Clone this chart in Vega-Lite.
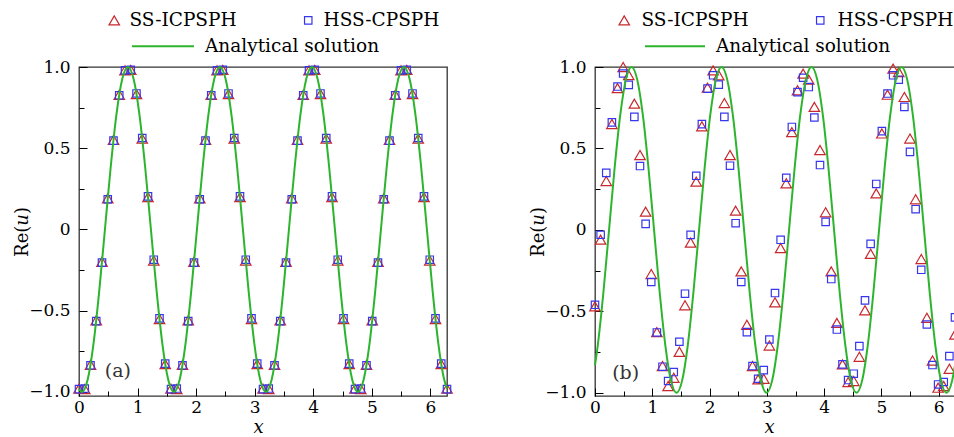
{
  "$schema": "https://vega.github.io/schema/vega-lite/v6.json",
  "background": "white",
  "padding": {"left": 12, "top": 10, "right": 0, "bottom": 0},
  "spacing": 72,
  "config": {
    "font": "DejaVu Serif",
    "view": {"stroke": "#333333", "strokeWidth": 1.3},
    "axis": {"labelFont": "DejaVu Serif", "labelFontSize": 17, "labelColor": "#000000", "titleFont": "DejaVu Serif", "titleFontSize": 18, "titleFontWeight": "normal", "titleColor": "#000000", "domain": false, "grid": false, "tickColor": "#000000", "tickWidth": 1, "labelFlush": false},
    "legend": {"labelFont": "DejaVu Serif", "labelFontSize": 18.5, "labelColor": "#000000", "padding": 0, "labelLimit": 0}
  },
  "datasets": {
    "ptsA": [
      {"x":0,"y":-0.980,"m":"SS-ICPSPH"},{"x":0.0982,"y":-0.982,"m":"SS-ICPSPH"},{"x":0.1963,"y":-0.833,"m":"SS-ICPSPH"},{"x":0.2945,"y":-0.559,"m":"SS-ICPSPH"},{"x":0.3927,"y":-0.199,"m":"SS-ICPSPH"},{"x":0.4909,"y":0.191,"m":"SS-ICPSPH"},{"x":0.589,"y":0.551,"m":"SS-ICPSPH"},{"x":0.6872,"y":0.829,"m":"SS-ICPSPH"},{"x":0.7854,"y":0.980,"m":"SS-ICPSPH"},{"x":0.8836,"y":0.982,"m":"SS-ICPSPH"},{"x":0.9817,"y":0.833,"m":"SS-ICPSPH"},{"x":1.0799,"y":0.559,"m":"SS-ICPSPH"},{"x":1.1781,"y":0.199,"m":"SS-ICPSPH"},{"x":1.2763,"y":-0.191,"m":"SS-ICPSPH"},{"x":1.3744,"y":-0.551,"m":"SS-ICPSPH"},{"x":1.4726,"y":-0.829,"m":"SS-ICPSPH"},
      {"x":1.5708,"y":-0.980,"m":"SS-ICPSPH"},{"x":1.669,"y":-0.982,"m":"SS-ICPSPH"},{"x":1.7671,"y":-0.833,"m":"SS-ICPSPH"},{"x":1.8653,"y":-0.559,"m":"SS-ICPSPH"},{"x":1.9635,"y":-0.199,"m":"SS-ICPSPH"},{"x":2.0617,"y":0.191,"m":"SS-ICPSPH"},{"x":2.1598,"y":0.551,"m":"SS-ICPSPH"},{"x":2.258,"y":0.829,"m":"SS-ICPSPH"},{"x":2.3562,"y":0.980,"m":"SS-ICPSPH"},{"x":2.4544,"y":0.982,"m":"SS-ICPSPH"},{"x":2.5525,"y":0.833,"m":"SS-ICPSPH"},{"x":2.6507,"y":0.559,"m":"SS-ICPSPH"},{"x":2.7489,"y":0.199,"m":"SS-ICPSPH"},{"x":2.8471,"y":-0.191,"m":"SS-ICPSPH"},{"x":2.9452,"y":-0.551,"m":"SS-ICPSPH"},{"x":3.0434,"y":-0.829,"m":"SS-ICPSPH"},
      {"x":3.1416,"y":-0.980,"m":"SS-ICPSPH"},{"x":3.2398,"y":-0.982,"m":"SS-ICPSPH"},{"x":3.3379,"y":-0.833,"m":"SS-ICPSPH"},{"x":3.4361,"y":-0.559,"m":"SS-ICPSPH"},{"x":3.5343,"y":-0.199,"m":"SS-ICPSPH"},{"x":3.6325,"y":0.191,"m":"SS-ICPSPH"},{"x":3.7306,"y":0.551,"m":"SS-ICPSPH"},{"x":3.8288,"y":0.829,"m":"SS-ICPSPH"},{"x":3.927,"y":0.980,"m":"SS-ICPSPH"},{"x":4.0252,"y":0.982,"m":"SS-ICPSPH"},{"x":4.1233,"y":0.833,"m":"SS-ICPSPH"},{"x":4.2215,"y":0.559,"m":"SS-ICPSPH"},{"x":4.3197,"y":0.199,"m":"SS-ICPSPH"},{"x":4.4179,"y":-0.191,"m":"SS-ICPSPH"},{"x":4.516,"y":-0.551,"m":"SS-ICPSPH"},{"x":4.6142,"y":-0.829,"m":"SS-ICPSPH"},
      {"x":4.7124,"y":-0.980,"m":"SS-ICPSPH"},{"x":4.8106,"y":-0.982,"m":"SS-ICPSPH"},{"x":4.9087,"y":-0.833,"m":"SS-ICPSPH"},{"x":5.0069,"y":-0.559,"m":"SS-ICPSPH"},{"x":5.1051,"y":-0.199,"m":"SS-ICPSPH"},{"x":5.2033,"y":0.191,"m":"SS-ICPSPH"},{"x":5.3014,"y":0.551,"m":"SS-ICPSPH"},{"x":5.3996,"y":0.829,"m":"SS-ICPSPH"},{"x":5.4978,"y":0.980,"m":"SS-ICPSPH"},{"x":5.596,"y":0.982,"m":"SS-ICPSPH"},{"x":5.6941,"y":0.833,"m":"SS-ICPSPH"},{"x":5.7923,"y":0.559,"m":"SS-ICPSPH"},{"x":5.8905,"y":0.199,"m":"SS-ICPSPH"},{"x":5.9887,"y":-0.191,"m":"SS-ICPSPH"},{"x":6.0868,"y":-0.551,"m":"SS-ICPSPH"},{"x":6.185,"y":-0.829,"m":"SS-ICPSPH"},{"x":6.2832,"y":-0.980,"m":"SS-ICPSPH"},
      {"x":0,"y":-0.983,"m":"HSS-CPSPH"},{"x":0.0982,"y":-0.979,"m":"HSS-CPSPH"},{"x":0.1963,"y":-0.836,"m":"HSS-CPSPH"},{"x":0.2945,"y":-0.564,"m":"HSS-CPSPH"},{"x":0.3927,"y":-0.204,"m":"HSS-CPSPH"},{"x":0.4909,"y":0.186,"m":"HSS-CPSPH"},{"x":0.589,"y":0.547,"m":"HSS-CPSPH"},{"x":0.6872,"y":0.826,"m":"HSS-CPSPH"},{"x":0.7854,"y":0.979,"m":"HSS-CPSPH"},{"x":0.8836,"y":0.983,"m":"HSS-CPSPH"},{"x":0.9817,"y":0.837,"m":"HSS-CPSPH"},{"x":1.0799,"y":0.563,"m":"HSS-CPSPH"},{"x":1.1781,"y":0.204,"m":"HSS-CPSPH"},{"x":1.2763,"y":-0.186,"m":"HSS-CPSPH"},{"x":1.3744,"y":-0.547,"m":"HSS-CPSPH"},{"x":1.4726,"y":-0.826,"m":"HSS-CPSPH"},
      {"x":1.5708,"y":-0.983,"m":"HSS-CPSPH"},{"x":1.669,"y":-0.979,"m":"HSS-CPSPH"},{"x":1.7671,"y":-0.836,"m":"HSS-CPSPH"},{"x":1.8653,"y":-0.564,"m":"HSS-CPSPH"},{"x":1.9635,"y":-0.204,"m":"HSS-CPSPH"},{"x":2.0617,"y":0.186,"m":"HSS-CPSPH"},{"x":2.1598,"y":0.547,"m":"HSS-CPSPH"},{"x":2.258,"y":0.826,"m":"HSS-CPSPH"},{"x":2.3562,"y":0.979,"m":"HSS-CPSPH"},{"x":2.4544,"y":0.983,"m":"HSS-CPSPH"},{"x":2.5525,"y":0.837,"m":"HSS-CPSPH"},{"x":2.6507,"y":0.563,"m":"HSS-CPSPH"},{"x":2.7489,"y":0.204,"m":"HSS-CPSPH"},{"x":2.8471,"y":-0.186,"m":"HSS-CPSPH"},{"x":2.9452,"y":-0.547,"m":"HSS-CPSPH"},{"x":3.0434,"y":-0.826,"m":"HSS-CPSPH"},
      {"x":3.1416,"y":-0.983,"m":"HSS-CPSPH"},{"x":3.2398,"y":-0.979,"m":"HSS-CPSPH"},{"x":3.3379,"y":-0.836,"m":"HSS-CPSPH"},{"x":3.4361,"y":-0.564,"m":"HSS-CPSPH"},{"x":3.5343,"y":-0.204,"m":"HSS-CPSPH"},{"x":3.6325,"y":0.186,"m":"HSS-CPSPH"},{"x":3.7306,"y":0.547,"m":"HSS-CPSPH"},{"x":3.8288,"y":0.826,"m":"HSS-CPSPH"},{"x":3.927,"y":0.979,"m":"HSS-CPSPH"},{"x":4.0252,"y":0.983,"m":"HSS-CPSPH"},{"x":4.1233,"y":0.837,"m":"HSS-CPSPH"},{"x":4.2215,"y":0.563,"m":"HSS-CPSPH"},{"x":4.3197,"y":0.204,"m":"HSS-CPSPH"},{"x":4.4179,"y":-0.186,"m":"HSS-CPSPH"},{"x":4.516,"y":-0.547,"m":"HSS-CPSPH"},{"x":4.6142,"y":-0.826,"m":"HSS-CPSPH"},
      {"x":4.7124,"y":-0.983,"m":"HSS-CPSPH"},{"x":4.8106,"y":-0.979,"m":"HSS-CPSPH"},{"x":4.9087,"y":-0.836,"m":"HSS-CPSPH"},{"x":5.0069,"y":-0.564,"m":"HSS-CPSPH"},{"x":5.1051,"y":-0.204,"m":"HSS-CPSPH"},{"x":5.2033,"y":0.186,"m":"HSS-CPSPH"},{"x":5.3014,"y":0.547,"m":"HSS-CPSPH"},{"x":5.3996,"y":0.826,"m":"HSS-CPSPH"},{"x":5.4978,"y":0.979,"m":"HSS-CPSPH"},{"x":5.596,"y":0.983,"m":"HSS-CPSPH"},{"x":5.6941,"y":0.837,"m":"HSS-CPSPH"},{"x":5.7923,"y":0.563,"m":"HSS-CPSPH"},{"x":5.8905,"y":0.204,"m":"HSS-CPSPH"},{"x":5.9887,"y":-0.186,"m":"HSS-CPSPH"},{"x":6.0868,"y":-0.547,"m":"HSS-CPSPH"},{"x":6.185,"y":-0.826,"m":"HSS-CPSPH"},{"x":6.2832,"y":-0.983,"m":"HSS-CPSPH"}
    ],
    "ptsB": [
      {"x":0,"y":-0.47,"m":"SS-ICPSPH"},{"x":0.0982,"y":-0.06,"m":"SS-ICPSPH"},{"x":0.1963,"y":0.30,"m":"SS-ICPSPH"},{"x":0.2945,"y":0.65,"m":"SS-ICPSPH"},{"x":0.3927,"y":0.87,"m":"SS-ICPSPH"},{"x":0.4909,"y":1.0,"m":"SS-ICPSPH"},{"x":0.589,"y":0.95,"m":"SS-ICPSPH"},{"x":0.6872,"y":0.775,"m":"SS-ICPSPH"},{"x":0.7854,"y":0.459,"m":"SS-ICPSPH"},{"x":0.8836,"y":0.112,"m":"SS-ICPSPH"},{"x":0.9817,"y":-0.271,"m":"SS-ICPSPH"},{"x":1.0799,"y":-0.628,"m":"SS-ICPSPH"},{"x":1.1781,"y":-0.836,"m":"SS-ICPSPH"},{"x":1.2763,"y":-0.959,"m":"SS-ICPSPH"},{"x":1.3744,"y":-0.908,"m":"SS-ICPSPH"},{"x":1.4726,"y":-0.749,"m":"SS-ICPSPH"},
      {"x":1.5708,"y":-0.463,"m":"SS-ICPSPH"},{"x":1.669,"y":-0.078,"m":"SS-ICPSPH"},{"x":1.7671,"y":0.296,"m":"SS-ICPSPH"},{"x":1.8653,"y":0.636,"m":"SS-ICPSPH"},{"x":1.9635,"y":0.873,"m":"SS-ICPSPH"},{"x":2.0617,"y":0.979,"m":"SS-ICPSPH"},{"x":2.1598,"y":0.949,"m":"SS-ICPSPH"},{"x":2.258,"y":0.779,"m":"SS-ICPSPH"},{"x":2.3562,"y":0.459,"m":"SS-ICPSPH"},{"x":2.4544,"y":0.118,"m":"SS-ICPSPH"},{"x":2.5525,"y":-0.255,"m":"SS-ICPSPH"},{"x":2.6507,"y":-0.583,"m":"SS-ICPSPH"},{"x":2.7489,"y":-0.836,"m":"SS-ICPSPH"},{"x":2.8471,"y":-0.918,"m":"SS-ICPSPH"},{"x":2.9452,"y":-0.914,"m":"SS-ICPSPH"},{"x":3.0434,"y":-0.71,"m":"SS-ICPSPH"},
      {"x":3.1416,"y":-0.445,"m":"SS-ICPSPH"},{"x":3.2398,"y":-0.112,"m":"SS-ICPSPH"},{"x":3.3379,"y":0.286,"m":"SS-ICPSPH"},{"x":3.4361,"y":0.60,"m":"SS-ICPSPH"},{"x":3.5343,"y":0.857,"m":"SS-ICPSPH"},{"x":3.6325,"y":0.959,"m":"SS-ICPSPH"},{"x":3.7306,"y":0.922,"m":"SS-ICPSPH"},{"x":3.8288,"y":0.755,"m":"SS-ICPSPH"},{"x":3.927,"y":0.49,"m":"SS-ICPSPH"},{"x":4.0252,"y":0.108,"m":"SS-ICPSPH"},{"x":4.1233,"y":-0.255,"m":"SS-ICPSPH"},{"x":4.2215,"y":-0.571,"m":"SS-ICPSPH"},{"x":4.3197,"y":-0.826,"m":"SS-ICPSPH"},{"x":4.4179,"y":-0.934,"m":"SS-ICPSPH"},{"x":4.516,"y":-0.928,"m":"SS-ICPSPH"},{"x":4.6142,"y":-0.779,"m":"SS-ICPSPH"},
      {"x":4.7124,"y":-0.494,"m":"SS-ICPSPH"},{"x":4.8106,"y":-0.147,"m":"SS-ICPSPH"},{"x":4.9087,"y":0.224,"m":"SS-ICPSPH"},{"x":5.0069,"y":0.592,"m":"SS-ICPSPH"},{"x":5.1051,"y":0.83,"m":"SS-ICPSPH"},{"x":5.2033,"y":0.99,"m":"SS-ICPSPH"},{"x":5.3014,"y":0.969,"m":"SS-ICPSPH"},{"x":5.3996,"y":0.816,"m":"SS-ICPSPH"},{"x":5.4978,"y":0.561,"m":"SS-ICPSPH"},{"x":5.596,"y":0.188,"m":"SS-ICPSPH"},{"x":5.6941,"y":-0.179,"m":"SS-ICPSPH"},{"x":5.7923,"y":-0.54,"m":"SS-ICPSPH"},{"x":5.8905,"y":-0.802,"m":"SS-ICPSPH"},{"x":5.9887,"y":-0.969,"m":"SS-ICPSPH"},{"x":6.0868,"y":-0.959,"m":"SS-ICPSPH"},{"x":6.185,"y":-0.853,"m":"SS-ICPSPH"},{"x":6.2832,"y":-0.643,"m":"SS-ICPSPH"},
      {"x":0,"y":-0.46,"m":"HSS-CPSPH"},{"x":0.0982,"y":-0.03,"m":"HSS-CPSPH"},{"x":0.1963,"y":0.35,"m":"HSS-CPSPH"},{"x":0.2945,"y":0.66,"m":"HSS-CPSPH"},{"x":0.3927,"y":0.88,"m":"HSS-CPSPH"},{"x":0.4909,"y":0.96,"m":"HSS-CPSPH"},{"x":0.589,"y":0.89,"m":"HSS-CPSPH"},{"x":0.6872,"y":0.694,"m":"HSS-CPSPH"},{"x":0.7854,"y":0.392,"m":"HSS-CPSPH"},{"x":0.8836,"y":0.037,"m":"HSS-CPSPH"},{"x":0.9817,"y":-0.32,"m":"HSS-CPSPH"},{"x":1.0799,"y":-0.63,"m":"HSS-CPSPH"},{"x":1.1781,"y":-0.84,"m":"HSS-CPSPH"},{"x":1.2763,"y":-0.928,"m":"HSS-CPSPH"},{"x":1.3744,"y":-0.873,"m":"HSS-CPSPH"},{"x":1.4726,"y":-0.687,"m":"HSS-CPSPH"},
      {"x":1.5708,"y":-0.392,"m":"HSS-CPSPH"},{"x":1.669,"y":-0.031,"m":"HSS-CPSPH"},{"x":1.7671,"y":0.332,"m":"HSS-CPSPH"},{"x":1.8653,"y":0.649,"m":"HSS-CPSPH"},{"x":1.9635,"y":0.867,"m":"HSS-CPSPH"},{"x":2.0617,"y":0.949,"m":"HSS-CPSPH"},{"x":2.1598,"y":0.892,"m":"HSS-CPSPH"},{"x":2.258,"y":0.694,"m":"HSS-CPSPH"},{"x":2.3562,"y":0.394,"m":"HSS-CPSPH"},{"x":2.4544,"y":0.041,"m":"HSS-CPSPH"},{"x":2.5525,"y":-0.32,"m":"HSS-CPSPH"},{"x":2.6507,"y":-0.628,"m":"HSS-CPSPH"},{"x":2.7489,"y":-0.836,"m":"HSS-CPSPH"},{"x":2.8471,"y":-0.914,"m":"HSS-CPSPH"},{"x":2.9452,"y":-0.861,"m":"HSS-CPSPH"},{"x":3.0434,"y":-0.673,"m":"HSS-CPSPH"},
      {"x":3.1416,"y":-0.388,"m":"HSS-CPSPH"},{"x":3.2398,"y":-0.061,"m":"HSS-CPSPH"},{"x":3.3379,"y":0.32,"m":"HSS-CPSPH"},{"x":3.4361,"y":0.632,"m":"HSS-CPSPH"},{"x":3.5343,"y":0.846,"m":"HSS-CPSPH"},{"x":3.6325,"y":0.934,"m":"HSS-CPSPH"},{"x":3.7306,"y":0.877,"m":"HSS-CPSPH"},{"x":3.8288,"y":0.69,"m":"HSS-CPSPH"},{"x":3.927,"y":0.398,"m":"HSS-CPSPH"},{"x":4.0252,"y":0.049,"m":"HSS-CPSPH"},{"x":4.1233,"y":-0.302,"m":"HSS-CPSPH"},{"x":4.2215,"y":-0.612,"m":"HSS-CPSPH"},{"x":4.3197,"y":-0.826,"m":"HSS-CPSPH"},{"x":4.4179,"y":-0.922,"m":"HSS-CPSPH"},{"x":4.516,"y":-0.883,"m":"HSS-CPSPH"},{"x":4.6142,"y":-0.714,"m":"HSS-CPSPH"},
      {"x":4.7124,"y":-0.433,"m":"HSS-CPSPH"},{"x":4.8106,"y":-0.086,"m":"HSS-CPSPH"},{"x":4.9087,"y":0.282,"m":"HSS-CPSPH"},{"x":5.0069,"y":0.606,"m":"HSS-CPSPH"},{"x":5.1051,"y":0.837,"m":"HSS-CPSPH"},{"x":5.2033,"y":0.949,"m":"HSS-CPSPH"},{"x":5.3014,"y":0.922,"m":"HSS-CPSPH"},{"x":5.3996,"y":0.755,"m":"HSS-CPSPH"},{"x":5.4978,"y":0.479,"m":"HSS-CPSPH"},{"x":5.596,"y":0.127,"m":"HSS-CPSPH"},{"x":5.6941,"y":-0.245,"m":"HSS-CPSPH"},{"x":5.7923,"y":-0.581,"m":"HSS-CPSPH"},{"x":5.8905,"y":-0.83,"m":"HSS-CPSPH"},{"x":5.9887,"y":-0.949,"m":"HSS-CPSPH"},{"x":6.0868,"y":-0.934,"m":"HSS-CPSPH"},{"x":6.185,"y":-0.775,"m":"HSS-CPSPH"},{"x":6.2832,"y":-0.537,"m":"HSS-CPSPH"}
    ],
    "lineA": [
      {"x":0,"y":-0.980,"c":"Analytical solution"},
      {"x":0.05,"y":-1,"c":"Analytical solution"},{"x":0.1482,"y":-0.924,"c":"Analytical solution"},{"x":0.2464,"y":-0.707,"c":"Analytical solution"},{"x":0.3445,"y":-0.383,"c":"Analytical solution"},{"x":0.4427,"y":0,"c":"Analytical solution"},{"x":0.5409,"y":0.383,"c":"Analytical solution"},{"x":0.6391,"y":0.707,"c":"Analytical solution"},{"x":0.7372,"y":0.924,"c":"Analytical solution"},{"x":0.8354,"y":1,"c":"Analytical solution"},{"x":0.9336,"y":0.924,"c":"Analytical solution"},{"x":1.0318,"y":0.707,"c":"Analytical solution"},{"x":1.1299,"y":0.383,"c":"Analytical solution"},{"x":1.2281,"y":0,"c":"Analytical solution"},{"x":1.3263,"y":-0.383,"c":"Analytical solution"},{"x":1.4245,"y":-0.707,"c":"Analytical solution"},{"x":1.5226,"y":-0.924,"c":"Analytical solution"},
      {"x":1.6208,"y":-1,"c":"Analytical solution"},{"x":1.719,"y":-0.924,"c":"Analytical solution"},{"x":1.8172,"y":-0.707,"c":"Analytical solution"},{"x":1.9153,"y":-0.383,"c":"Analytical solution"},{"x":2.0135,"y":0,"c":"Analytical solution"},{"x":2.1117,"y":0.383,"c":"Analytical solution"},{"x":2.2099,"y":0.707,"c":"Analytical solution"},{"x":2.308,"y":0.924,"c":"Analytical solution"},{"x":2.4062,"y":1,"c":"Analytical solution"},{"x":2.5044,"y":0.924,"c":"Analytical solution"},{"x":2.6026,"y":0.707,"c":"Analytical solution"},{"x":2.7007,"y":0.383,"c":"Analytical solution"},{"x":2.7989,"y":0,"c":"Analytical solution"},{"x":2.8971,"y":-0.383,"c":"Analytical solution"},{"x":2.9953,"y":-0.707,"c":"Analytical solution"},{"x":3.0934,"y":-0.924,"c":"Analytical solution"},
      {"x":3.1916,"y":-1,"c":"Analytical solution"},{"x":3.2898,"y":-0.924,"c":"Analytical solution"},{"x":3.388,"y":-0.707,"c":"Analytical solution"},{"x":3.4861,"y":-0.383,"c":"Analytical solution"},{"x":3.5843,"y":0,"c":"Analytical solution"},{"x":3.6825,"y":0.383,"c":"Analytical solution"},{"x":3.7807,"y":0.707,"c":"Analytical solution"},{"x":3.8788,"y":0.924,"c":"Analytical solution"},{"x":3.977,"y":1,"c":"Analytical solution"},{"x":4.0752,"y":0.924,"c":"Analytical solution"},{"x":4.1734,"y":0.707,"c":"Analytical solution"},{"x":4.2715,"y":0.383,"c":"Analytical solution"},{"x":4.3697,"y":0,"c":"Analytical solution"},{"x":4.4679,"y":-0.383,"c":"Analytical solution"},{"x":4.5661,"y":-0.707,"c":"Analytical solution"},{"x":4.6642,"y":-0.924,"c":"Analytical solution"},
      {"x":4.7624,"y":-1,"c":"Analytical solution"},{"x":4.8606,"y":-0.924,"c":"Analytical solution"},{"x":4.9588,"y":-0.707,"c":"Analytical solution"},{"x":5.0569,"y":-0.383,"c":"Analytical solution"},{"x":5.1551,"y":0,"c":"Analytical solution"},{"x":5.2533,"y":0.383,"c":"Analytical solution"},{"x":5.3515,"y":0.707,"c":"Analytical solution"},{"x":5.4496,"y":0.924,"c":"Analytical solution"},{"x":5.5478,"y":1,"c":"Analytical solution"},{"x":5.646,"y":0.924,"c":"Analytical solution"},{"x":5.7442,"y":0.707,"c":"Analytical solution"},{"x":5.8423,"y":0.383,"c":"Analytical solution"},{"x":5.9405,"y":0,"c":"Analytical solution"},{"x":6.0387,"y":-0.383,"c":"Analytical solution"},{"x":6.1369,"y":-0.707,"c":"Analytical solution"},{"x":6.235,"y":-0.924,"c":"Analytical solution"},
      {"x":6.2832,"y":-0.980,"c":"Analytical solution"}
    ],
    "lineB": [
      {"x":0,"y":-0.831,"c":"Analytical solution"},
      {"x":0.0489,"y":-0.707,"c":"Analytical solution"},{"x":0.147,"y":-0.383,"c":"Analytical solution"},{"x":0.2452,"y":0,"c":"Analytical solution"},{"x":0.3434,"y":0.383,"c":"Analytical solution"},{"x":0.4416,"y":0.707,"c":"Analytical solution"},{"x":0.5397,"y":0.924,"c":"Analytical solution"},{"x":0.6379,"y":1,"c":"Analytical solution"},{"x":0.7361,"y":0.924,"c":"Analytical solution"},{"x":0.8343,"y":0.707,"c":"Analytical solution"},{"x":0.9324,"y":0.383,"c":"Analytical solution"},{"x":1.0306,"y":0,"c":"Analytical solution"},{"x":1.1288,"y":-0.383,"c":"Analytical solution"},{"x":1.227,"y":-0.707,"c":"Analytical solution"},{"x":1.3251,"y":-0.924,"c":"Analytical solution"},{"x":1.4233,"y":-1,"c":"Analytical solution"},{"x":1.5215,"y":-0.924,"c":"Analytical solution"},
      {"x":1.6197,"y":-0.707,"c":"Analytical solution"},{"x":1.7178,"y":-0.383,"c":"Analytical solution"},{"x":1.816,"y":0,"c":"Analytical solution"},{"x":1.9142,"y":0.383,"c":"Analytical solution"},{"x":2.0124,"y":0.707,"c":"Analytical solution"},{"x":2.1105,"y":0.924,"c":"Analytical solution"},{"x":2.2087,"y":1,"c":"Analytical solution"},{"x":2.3069,"y":0.924,"c":"Analytical solution"},{"x":2.4051,"y":0.707,"c":"Analytical solution"},{"x":2.5032,"y":0.383,"c":"Analytical solution"},{"x":2.6014,"y":0,"c":"Analytical solution"},{"x":2.6996,"y":-0.383,"c":"Analytical solution"},{"x":2.7978,"y":-0.707,"c":"Analytical solution"},{"x":2.8959,"y":-0.924,"c":"Analytical solution"},{"x":2.9941,"y":-1,"c":"Analytical solution"},{"x":3.0923,"y":-0.924,"c":"Analytical solution"},
      {"x":3.1905,"y":-0.707,"c":"Analytical solution"},{"x":3.2886,"y":-0.383,"c":"Analytical solution"},{"x":3.3868,"y":0,"c":"Analytical solution"},{"x":3.485,"y":0.383,"c":"Analytical solution"},{"x":3.5832,"y":0.707,"c":"Analytical solution"},{"x":3.6813,"y":0.924,"c":"Analytical solution"},{"x":3.7795,"y":1,"c":"Analytical solution"},{"x":3.8777,"y":0.924,"c":"Analytical solution"},{"x":3.9759,"y":0.707,"c":"Analytical solution"},{"x":4.074,"y":0.383,"c":"Analytical solution"},{"x":4.1722,"y":0,"c":"Analytical solution"},{"x":4.2704,"y":-0.383,"c":"Analytical solution"},{"x":4.3686,"y":-0.707,"c":"Analytical solution"},{"x":4.4667,"y":-0.924,"c":"Analytical solution"},{"x":4.5649,"y":-1,"c":"Analytical solution"},{"x":4.6631,"y":-0.924,"c":"Analytical solution"},
      {"x":4.7613,"y":-0.707,"c":"Analytical solution"},{"x":4.8594,"y":-0.383,"c":"Analytical solution"},{"x":4.9576,"y":0,"c":"Analytical solution"},{"x":5.0558,"y":0.383,"c":"Analytical solution"},{"x":5.154,"y":0.707,"c":"Analytical solution"},{"x":5.2521,"y":0.924,"c":"Analytical solution"},{"x":5.3503,"y":1,"c":"Analytical solution"},{"x":5.4485,"y":0.924,"c":"Analytical solution"},{"x":5.5467,"y":0.707,"c":"Analytical solution"},{"x":5.6448,"y":0.383,"c":"Analytical solution"},{"x":5.743,"y":0,"c":"Analytical solution"},{"x":5.8412,"y":-0.383,"c":"Analytical solution"},{"x":5.9394,"y":-0.707,"c":"Analytical solution"},{"x":6.0375,"y":-0.924,"c":"Analytical solution"},{"x":6.1357,"y":-1,"c":"Analytical solution"},{"x":6.2339,"y":-0.924,"c":"Analytical solution"},
      {"x":6.2832,"y":-0.831,"c":"Analytical solution"}
    ],
    "tagA": [{"x":0.665,"y":-0.872,"label":"(a)"}],
    "tagB": [{"x":0.535,"y":-0.877,"label":"(b)"}]
  },
  "hconcat": [
    {
      "width": 368,
      "height": 329,
      "resolve": {"axis": {"x": "independent", "y": "independent"}},
      "layer": [
        {
          "data": {"name": "ptsA"},
          "mark": {"type": "point", "filled": false, "strokeWidth": 1.2, "opacity": 1},
          "encoding": {
            "x": {"field": "x", "type": "quantitative", "scale": {"domain": [0, 6.2832], "nice": false, "zero": false},
              "axis": {"orient": "bottom", "values": [0,1,2,3,4,5,6], "tickSize": -8, "labelPadding": 11, "format": "d", "title": "x", "titleFontStyle": "italic", "titleX": 179, "titleY": 36, "titleBaseline": "alphabetic"}},
            "y": {"field": "y", "type": "quantitative", "scale": {"domain": [-1.025, 1], "nice": false, "zero": false},
              "axis": {"orient": "left", "values": [-1,-0.5,0,0.5,1], "tickSize": -8, "labelPadding": 17, "labelExpr": "datum.value == 0 ? '0' : replace(format(datum.value, '.1f'), '-', '−')", "title": "Re(𝑢)", "titleX": -48, "titleBaseline": "bottom"}},
            "shape": {"field": "m", "type": "nominal", "scale": {"domain": ["SS-ICPSPH","HSS-CPSPH"], "range": ["triangle-up","square"]},
              "legend": {"title": null, "orient": "none", "legendX": 26, "legendY": -56, "direction": "horizontal", "columns": 2, "columnPadding": 62, "labelOffset": 6, "symbolStrokeWidth": 1.2}},
            "stroke": {"field": "m", "type": "nominal", "scale": {"domain": ["SS-ICPSPH","HSS-CPSPH"], "range": ["#c8282d","#3636ee"]},
              "legend": {"title": null, "orient": "none", "legendX": 26, "legendY": -56, "direction": "horizontal", "columns": 2, "columnPadding": 62, "labelOffset": 6, "symbolStrokeWidth": 1.2}},
            "size": {"field": "m", "type": "nominal", "scale": {"domain": ["SS-ICPSPH","HSS-CPSPH"], "range": [110, 55]},
              "legend": {"title": null, "orient": "none", "legendX": 26, "legendY": -56, "direction": "horizontal", "columns": 2, "columnPadding": 62, "labelOffset": 6, "symbolStrokeWidth": 1.2}}
          }
        },
        {
          "data": {"name": "lineA"},
          "mark": {"type": "line", "strokeWidth": 2, "interpolate": "monotone"},
          "encoding": {
            "x": {"field": "x", "type": "quantitative", "axis": {"orient": "bottom", "values": [0.5,1.5,2.5,3.5,4.5,5.5], "tickSize": -5, "labels": false, "title": null}},
            "y": {"field": "y", "type": "quantitative", "axis": {"orient": "left", "values": [-0.75,-0.25,0.25,0.75], "tickSize": -5, "labels": false, "title": null}},
            "color": {"field": "c", "type": "nominal", "scale": {"range": ["#2cb52c"]},
              "legend": {"title": null, "orient": "none", "legendX": 52, "legendY": -52.7, "symbolType": "stroke", "symbolSize": 3844, "symbolStrokeWidth": 2, "labelOffset": 10}}
          }
        },
        {
          "data": {"name": "tagA"},
          "mark": {"type": "text", "font": "DejaVu Serif", "fontSize": 19, "color": "#333333"},
          "encoding": {
            "x": {"field": "x", "type": "quantitative", "axis": null},
            "y": {"field": "y", "type": "quantitative", "axis": null},
            "text": {"field": "label"}
          }
        }
      ]
    },
    {
      "width": 360,
      "height": 329,
      "resolve": {"axis": {"x": "independent", "y": "independent"}},
      "layer": [
        {
          "data": {"name": "ptsB"},
          "mark": {"type": "point", "filled": false, "strokeWidth": 1.2, "opacity": 1},
          "encoding": {
            "x": {"field": "x", "type": "quantitative", "scale": {"domain": [0, 6.2832], "nice": false, "zero": false},
              "axis": {"orient": "bottom", "values": [0,1,2,3,4,5,6], "tickSize": -8, "labelPadding": 11, "format": "d", "title": "x", "titleFontStyle": "italic", "titleX": 174, "titleY": 36, "titleBaseline": "alphabetic"}},
            "y": {"field": "y", "type": "quantitative", "scale": {"domain": [-1.02, 1], "nice": false, "zero": false},
              "axis": {"orient": "left", "values": [-1,-0.5,0,0.5,1], "tickSize": -8, "labelPadding": 17, "labelExpr": "datum.value == 0 ? '0' : replace(format(datum.value, '.1f'), '-', '−')", "title": "Re(𝑢)", "titleX": -48, "titleBaseline": "bottom"}},
            "shape": {"field": "m", "type": "nominal", "scale": {"domain": ["SS-ICPSPH","HSS-CPSPH"], "range": ["triangle-up","square"]},
              "legend": {"title": null, "orient": "none", "legendX": 20, "legendY": -56, "direction": "horizontal", "columns": 2, "columnPadding": 62, "labelOffset": 8, "symbolStrokeWidth": 1.2}},
            "stroke": {"field": "m", "type": "nominal", "scale": {"domain": ["SS-ICPSPH","HSS-CPSPH"], "range": ["#c8282d","#3636ee"]},
              "legend": {"title": null, "orient": "none", "legendX": 20, "legendY": -56, "direction": "horizontal", "columns": 2, "columnPadding": 62, "labelOffset": 8, "symbolStrokeWidth": 1.2}},
            "size": {"field": "m", "type": "nominal", "scale": {"domain": ["SS-ICPSPH","HSS-CPSPH"], "range": [110, 55]},
              "legend": {"title": null, "orient": "none", "legendX": 20, "legendY": -56, "direction": "horizontal", "columns": 2, "columnPadding": 62, "labelOffset": 8, "symbolStrokeWidth": 1.2}}
          }
        },
        {
          "data": {"name": "lineB"},
          "mark": {"type": "line", "strokeWidth": 2, "interpolate": "monotone"},
          "encoding": {
            "x": {"field": "x", "type": "quantitative", "axis": {"orient": "bottom", "values": [0.5,1.5,2.5,3.5,4.5,5.5], "tickSize": -5, "labels": false, "title": null}},
            "y": {"field": "y", "type": "quantitative", "axis": {"orient": "left", "values": [-0.75,-0.25,0.25,0.75], "tickSize": -5, "labels": false, "title": null}},
            "color": {"field": "c", "type": "nominal", "scale": {"range": ["#2cb52c"]},
              "legend": {"title": null, "orient": "none", "legendX": 49, "legendY": -51.7, "symbolType": "stroke", "symbolSize": 3600, "symbolStrokeWidth": 2, "labelOffset": 10}}
          }
        },
        {
          "data": {"name": "tagB"},
          "mark": {"type": "text", "font": "DejaVu Serif", "fontSize": 19, "color": "#333333"},
          "encoding": {
            "x": {"field": "x", "type": "quantitative", "axis": null},
            "y": {"field": "y", "type": "quantitative", "axis": null},
            "text": {"field": "label"}
          }
        }
      ]
    }
  ],
  "resolve": {
    "scale": {"x": "independent", "y": "independent", "shape": "independent", "stroke": "independent", "size": "independent", "color": "independent"},
    "legend": {"shape": "independent", "stroke": "independent", "size": "independent", "color": "independent"}
  }
}
